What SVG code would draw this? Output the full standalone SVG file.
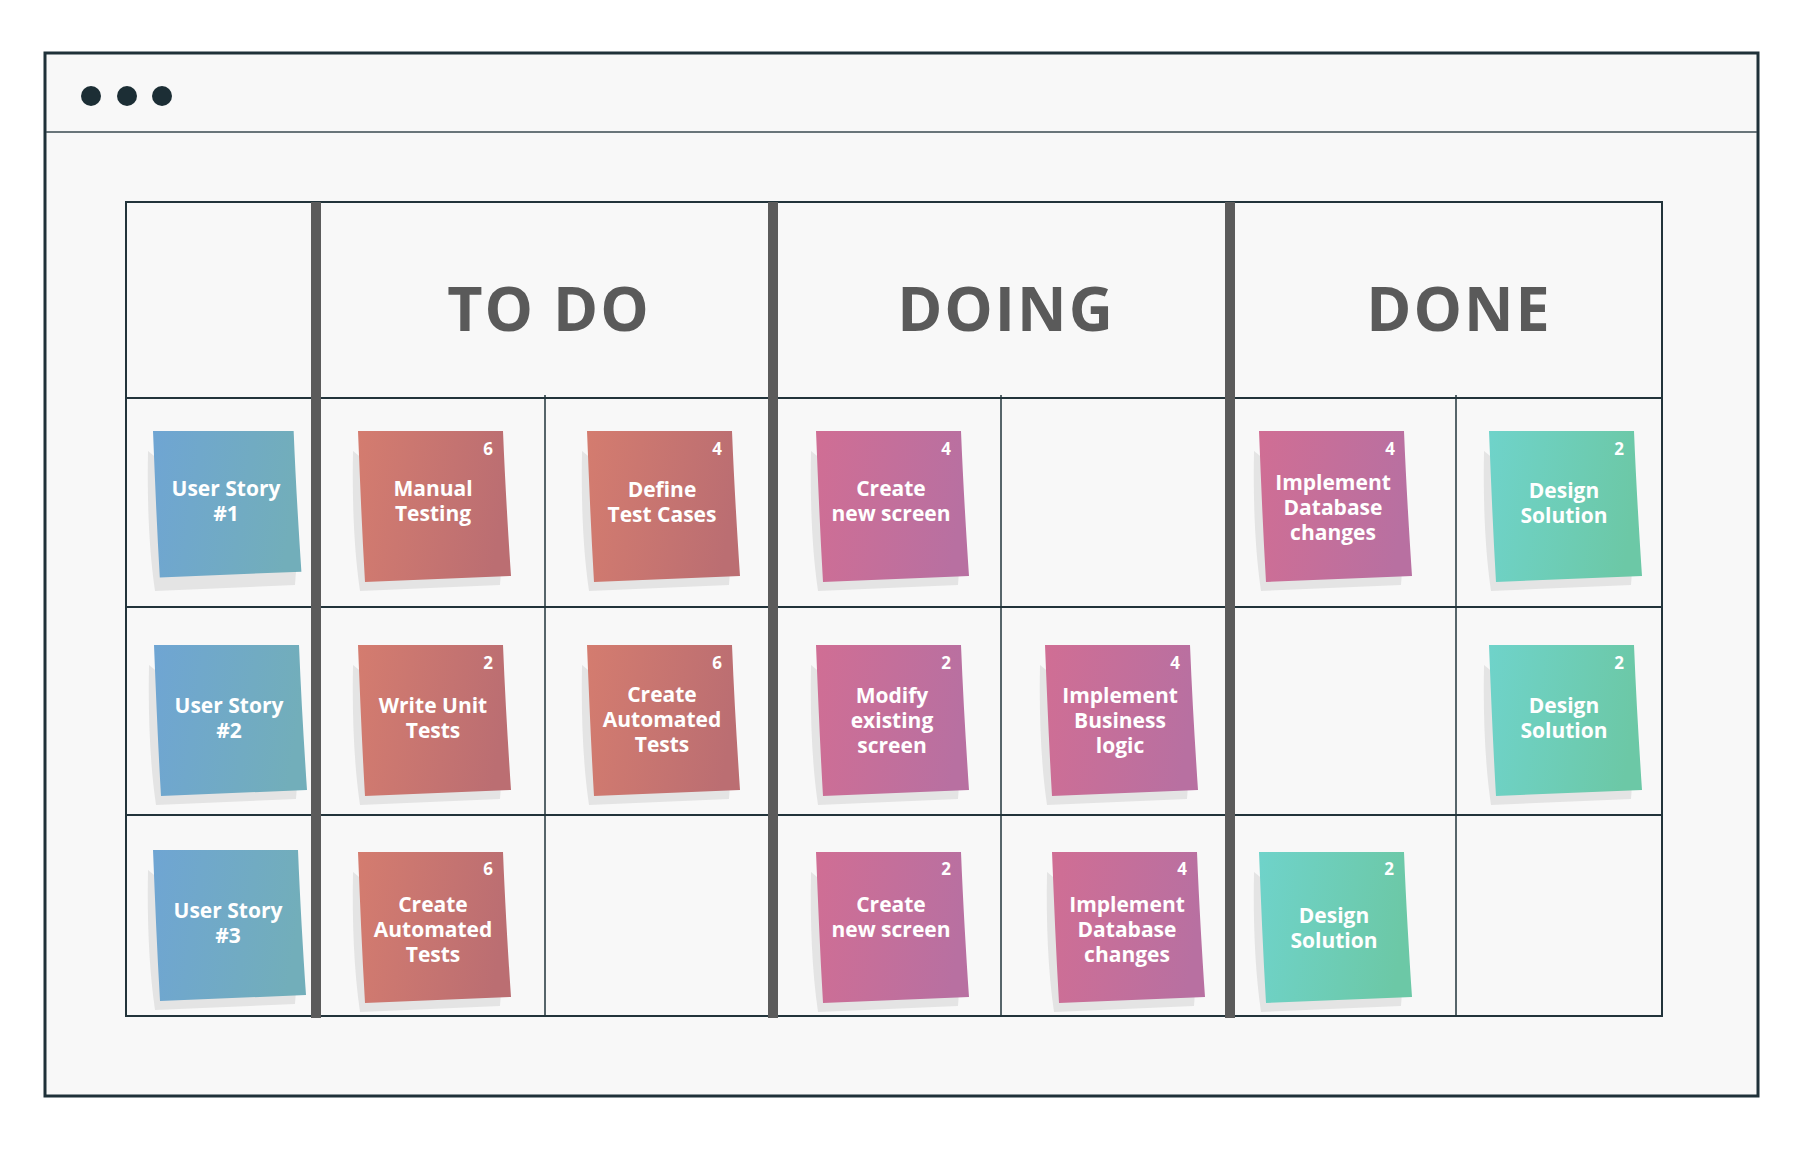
<svg xmlns="http://www.w3.org/2000/svg" xmlns:xlink="http://www.w3.org/1999/xlink" width="1800" height="1152" viewBox="0 0 1800 1152">
<defs>
<style>
.frame{fill:#f8f8f8;stroke:#1f3139;stroke-width:3}
.grid{stroke:#22343b;stroke-width:2;fill:none}
.thin{stroke:#22343b;stroke-width:1.5}
.bar{fill:#5b5b5b}
.hdr{font-family:'Open Sans','Liberation Sans',sans-serif;font-weight:700;font-size:61px;fill:#5a5a5a;text-anchor:middle;letter-spacing:2px}
.t{font-family:'Open Sans','Liberation Sans',sans-serif;font-weight:700;font-size:21px;fill:#ffffff;text-anchor:middle}
.n{font-family:'Open Sans','Liberation Sans',sans-serif;font-weight:700;font-size:17px;fill:#ffffff;text-anchor:middle}
.sh{fill:#e4e4e4}
.blue{fill:url(#gBlue)}
.red{fill:url(#gRed)}
.pink{fill:url(#gPink)}
.teal{fill:url(#gTeal)}
</style>
<linearGradient id="gBlue" x1="0" y1="0" x2="1" y2="0.15"><stop offset="0" stop-color="#6fa5d3"/><stop offset="1" stop-color="#72aeba"/></linearGradient>
<linearGradient id="gRed" x1="0" y1="0" x2="1" y2="0.15"><stop offset="0" stop-color="#d47c6f"/><stop offset="1" stop-color="#bb6e72"/></linearGradient>
<linearGradient id="gPink" x1="0" y1="0" x2="1" y2="0.15"><stop offset="0" stop-color="#d06e94"/><stop offset="1" stop-color="#b870a1"/></linearGradient>
<linearGradient id="gTeal" x1="0" y1="0" x2="1" y2="0.15"><stop offset="0" stop-color="#6fd3ca"/><stop offset="1" stop-color="#6cc8a6"/></linearGradient>
<path id="shadow" d="M-5,20 C-6,70 -4,120 2,160 L142,154 L143,140 Z"/>
<path id="paper" d="M0,0 L145,0 C147,50 150,100 153,145 L7,151 C4,100 2,50 0,0 Z"/>
</defs>

<rect x="0" y="0" width="1800" height="1152" fill="#ffffff"/>

<g id="window">
<rect class="frame" x="45" y="53" width="1713" height="1043"/>
<line x1="46" y1="132" x2="1757" y2="132" stroke="#3a4a50" stroke-width="1.5"/>
<circle cx="91" cy="96" r="10" fill="#1c2e35"/>
<circle cx="127" cy="96" r="10" fill="#1c2e35"/>
<circle cx="162" cy="96" r="10" fill="#1c2e35"/>
</g>

<g id="board">
<rect x="126" y="202" width="1536" height="814" fill="#fafafa" class="grid"/>
<line class="grid" x1="126" y1="398" x2="1662" y2="398"/>
<line class="grid" x1="126" y1="607" x2="1662" y2="607"/>
<line class="grid" x1="126" y1="815" x2="1662" y2="815"/>
<line class="thin" x1="545" y1="395" x2="545" y2="1016"/>
<line class="thin" x1="1001" y1="395" x2="1001" y2="1016"/>
<line class="thin" x1="1456" y1="395" x2="1456" y2="1016"/>
<rect class="bar" x="311" y="202" width="10" height="816"/>
<rect class="bar" x="768" y="202" width="10" height="816"/>
<rect class="bar" x="1225" y="202" width="10" height="816"/>
<text class="hdr" x="549" y="331">TO DO</text>
<text class="hdr" x="1006" y="331">DOING</text>
<text class="hdr" x="1459" y="331">DONE</text>
</g>

<g id="connectors"></g>

<!-- Row 1 -->
<g id="us1" transform="translate(153,431)">
<use href="#shadow" class="sh"/><use href="#paper" class="blue" transform="scale(0.97)"/>
<text class="t" x="73" y="65">User Story</text><text class="t" x="73" y="90">#1</text>
</g>
<g id="manual-testing" transform="translate(358,431)">
<use href="#shadow" class="sh"/><use href="#paper" class="red"/>
<text class="n" x="130" y="24">6</text>
<text class="t" x="75" y="65">Manual</text><text class="t" x="75" y="90">Testing</text>
</g>
<g id="define-test-cases" transform="translate(587,431)">
<use href="#shadow" class="sh"/><use href="#paper" class="red"/>
<text class="n" x="130" y="24">4</text>
<text class="t" x="75" y="66">Define</text><text class="t" x="75" y="91">Test Cases</text>
</g>
<g id="create-new-screen-1" transform="translate(816,431)">
<use href="#shadow" class="sh"/><use href="#paper" class="pink"/>
<text class="n" x="130" y="24">4</text>
<text class="t" x="75" y="65">Create</text><text class="t" x="75" y="90">new screen</text>
</g>
<g id="implement-db-1" transform="translate(1259,431)">
<use href="#shadow" class="sh"/><use href="#paper" class="pink"/>
<text class="n" x="131" y="24">4</text>
<text class="t" x="74" y="59">Implement</text><text class="t" x="74" y="84">Database</text><text class="t" x="74" y="109">changes</text>
</g>
<g id="design-solution-1" transform="translate(1489,431)">
<use href="#shadow" class="sh"/><use href="#paper" class="teal"/>
<text class="n" x="130" y="24">2</text>
<text class="t" x="75" y="67">Design</text><text class="t" x="75" y="92">Solution</text>
</g>

<!-- Row 2 -->
<g id="us2" transform="translate(154,645)">
<use href="#shadow" class="sh"/><use href="#paper" class="blue"/>
<text class="t" x="75" y="68">User Story</text><text class="t" x="75" y="93">#2</text>
</g>
<g id="write-unit-tests" transform="translate(358,645)">
<use href="#shadow" class="sh"/><use href="#paper" class="red"/>
<text class="n" x="130" y="24">2</text>
<text class="t" x="75" y="68">Write Unit</text><text class="t" x="75" y="93">Tests</text>
</g>
<g id="create-automated-tests-1" transform="translate(587,645)">
<use href="#shadow" class="sh"/><use href="#paper" class="red"/>
<text class="n" x="130" y="24">6</text>
<text class="t" x="75" y="57">Create</text><text class="t" x="75" y="82">Automated</text><text class="t" x="75" y="107">Tests</text>
</g>
<g id="modify-existing-screen" transform="translate(816,645)">
<use href="#shadow" class="sh"/><use href="#paper" class="pink"/>
<text class="n" x="130" y="24">2</text>
<text class="t" x="76" y="58">Modify</text><text class="t" x="76" y="83">existing</text><text class="t" x="76" y="108">screen</text>
</g>
<g id="implement-business-logic" transform="translate(1045,645)">
<use href="#shadow" class="sh"/><use href="#paper" class="pink"/>
<text class="n" x="130" y="24">4</text>
<text class="t" x="75" y="58">Implement</text><text class="t" x="75" y="83">Business</text><text class="t" x="75" y="108">logic</text>
</g>
<g id="design-solution-2" transform="translate(1489,645)">
<use href="#shadow" class="sh"/><use href="#paper" class="teal"/>
<text class="n" x="130" y="24">2</text>
<text class="t" x="75" y="68">Design</text><text class="t" x="75" y="93">Solution</text>
</g>

<!-- Row 3 -->
<g id="us3" transform="translate(153,850)">
<use href="#shadow" class="sh"/><use href="#paper" class="blue"/>
<text class="t" x="75" y="68">User Story</text><text class="t" x="75" y="93">#3</text>
</g>
<g id="create-automated-tests-2" transform="translate(358,852)">
<use href="#shadow" class="sh"/><use href="#paper" class="red"/>
<text class="n" x="130" y="23">6</text>
<text class="t" x="75" y="60">Create</text><text class="t" x="75" y="85">Automated</text><text class="t" x="75" y="110">Tests</text>
</g>
<g id="create-new-screen-2" transform="translate(816,852)">
<use href="#shadow" class="sh"/><use href="#paper" class="pink"/>
<text class="n" x="130" y="23">2</text>
<text class="t" x="75" y="60">Create</text><text class="t" x="75" y="85">new screen</text>
</g>
<g id="implement-db-2" transform="translate(1052,852)">
<use href="#shadow" class="sh"/><use href="#paper" class="pink"/>
<text class="n" x="130" y="23">4</text>
<text class="t" x="75" y="60">Implement</text><text class="t" x="75" y="85">Database</text><text class="t" x="75" y="110">changes</text>
</g>
<g id="design-solution-3" transform="translate(1259,852)">
<use href="#shadow" class="sh"/><use href="#paper" class="teal"/>
<text class="n" x="130" y="23">2</text>
<text class="t" x="75" y="71">Design</text><text class="t" x="75" y="96">Solution</text>
</g>
</svg>
